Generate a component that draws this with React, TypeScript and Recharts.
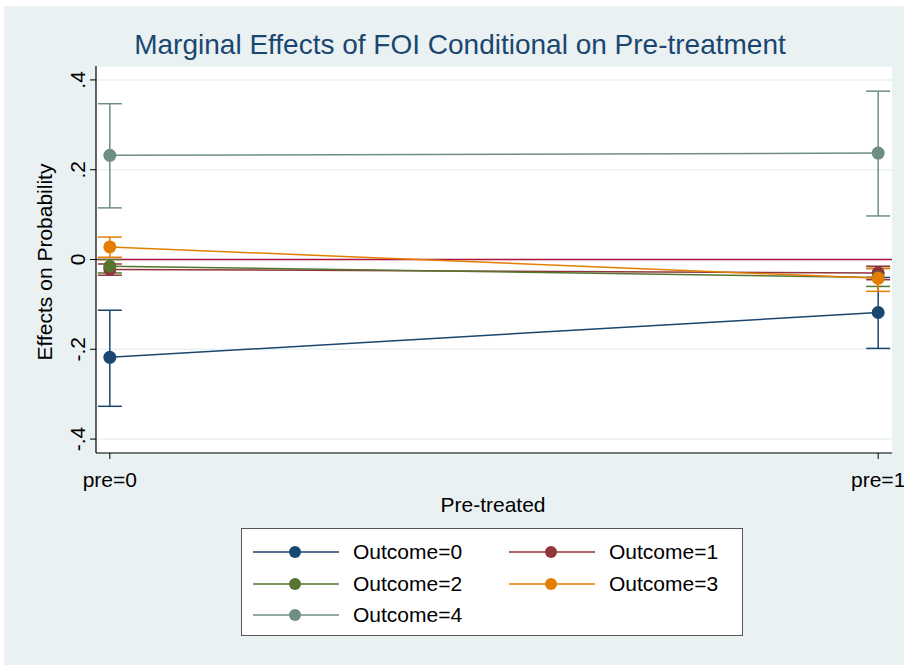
import {
  ComposedChart,
  Line,
  XAxis,
  YAxis,
  CartesianGrid,
  ErrorBar,
  ReferenceLine,
} from 'recharts';

// x positions: pre=0, pre=1
const xValues = [0, 1];
const xTickLabels = ['pre=0', 'pre=1'];
const yTicks = [-0.4, -0.2, 0, 0.2, 0.4];

const seriesNames = ['Outcome=0', 'Outcome=1', 'Outcome=2', 'Outcome=3', 'Outcome=4'];
const seriesColors = ['#1a476f', '#90353b', '#55752f', '#e37e00', '#6e8e84'];

// point estimates and confidence bounds, one entry per x value
const outcome0 = [-0.218, -0.118];
const outcome0Low = [-0.327, -0.198];
const outcome0High = [-0.113, -0.04];

const outcome1 = [-0.022, -0.03];
const outcome1Low = [-0.035, -0.045];
const outcome1High = [-0.01, -0.015];

const outcome2 = [-0.015, -0.04];
const outcome2Low = [-0.03, -0.06];
const outcome2High = [0.0, -0.02];

const outcome3 = [0.028, -0.042];
const outcome3Low = [0.005, -0.071];
const outcome3High = [0.05, -0.02];

const outcome4 = [0.232, 0.237];
const outcome4Low = [0.115, 0.097];
const outcome4High = [0.347, 0.375];

const estimates = [outcome0, outcome1, outcome2, outcome3, outcome4];
const lows = [outcome0Low, outcome1Low, outcome2Low, outcome3Low, outcome4Low];
const highs = [outcome0High, outcome1High, outcome2High, outcome3High, outcome4High];

const data = xValues.map((x, i) => {
  const row: Record<string, any> = { x };
  estimates.forEach((est, s) => {
    row[`o${s}`] = est[i];
    row[`e${s}`] = [est[i] - lows[s][i], highs[s][i] - est[i]];
  });
  return row;
});

const FONT = '"Liberation Sans", Arial, sans-serif';
const TEXT_SIZE = 21;

const YTick = (props: any) => {
  const { x, y, payload } = props;
  const v = payload.value;
  const label = v === 0 ? '0' : (v < 0 ? '-' : '') + String(Math.abs(v)).replace(/^0/, '');
  const bx = x - 3;
  return (
    <text
      x={bx}
      y={y}
      transform={`rotate(-90 ${bx} ${y})`}
      textAnchor="middle"
      fontSize={TEXT_SIZE}
      fontFamily={FONT}
      fill="#000"
    >
      {label}
    </text>
  );
};

const XTick = (props: any) => {
  const { x, y, payload } = props;
  return (
    <text x={x} y={y + 26} textAnchor="middle" fontSize={TEXT_SIZE} fontFamily={FONT} fill="#000">
      {xTickLabels[payload.value]}
    </text>
  );
};

const LegendBox = () => (
  <div
    style={{
      position: 'absolute',
      left: 241,
      top: 528,
      width: 502,
      height: 108,
      boxSizing: 'border-box',
      border: '1.5px solid #555',
      background: '#fff',
      fontFamily: FONT,
      fontSize: TEXT_SIZE,
      color: '#000',
    }}
  >
    {seriesNames.map((name, i) => (
      <div
        key={name}
        style={{
          position: 'absolute',
          left: 11 + (i % 2) * 256,
          top: 8 + Math.floor(i / 2) * 31.5,
          height: 30,
          display: 'flex',
          alignItems: 'center',
          whiteSpace: 'nowrap',
        }}
      >
        <svg width={86} height={14} style={{ marginRight: 14 }}>
          <line x1={0} y1={7} x2={86} y2={7} stroke={seriesColors[i]} strokeWidth={1.5} />
          <circle cx={42} cy={7} r={6} fill={seriesColors[i]} />
        </svg>
        <span>{name}</span>
      </div>
    ))}
  </div>
);

export default function App() {
  return (
    <div style={{ position: 'absolute', left: 0, top: 0, width: 904, height: 665, background: '#fff' }}>
      <div
        style={{
          position: 'absolute',
          left: 4,
          top: 6,
          width: 900,
          height: 659,
          background: '#eaf1f3',
        }}
      />
      <div
        style={{
          position: 'absolute',
          left: 0,
          top: 45,
          width: 920,
          transform: 'translateY(-50%)',
          textAlign: 'center',
          fontFamily: FONT,
          fontSize: 28,
          color: '#1a476f',
          whiteSpace: 'nowrap',
        }}
      >
        Marginal Effects of FOI Conditional on Pre-treatment
      </div>
      <div
        style={{
          position: 'absolute',
          left: 45,
          top: 262,
          transform: 'translate(-50%, -50%) rotate(-90deg)',
          whiteSpace: 'nowrap',
          fontFamily: FONT,
          fontSize: TEXT_SIZE,
          color: '#000',
        }}
      >
        Effects on Probability
      </div>
      <div
        style={{
          position: 'absolute',
          left: 493,
          top: 505,
          transform: 'translate(-50%, -50%)',
          whiteSpace: 'nowrap',
          fontFamily: FONT,
          fontSize: TEXT_SIZE,
          color: '#000',
        }}
      >
        Pre-treated
      </div>
      <div style={{ position: 'absolute', left: 0, top: 0 }}>
        <ComposedChart
          width={904}
          height={665}
          data={data}
          margin={{ top: 66, right: 12, bottom: 172, left: 50 }}
        >
          <CartesianGrid vertical={false} fill="#fff" stroke="#eaf1f3" strokeWidth={1.5} />
          <XAxis
            dataKey="x"
            type="number"
            domain={[-0.018, 1.018]}
            ticks={xValues}
            tick={<XTick />}
            axisLine={{ stroke: '#000', strokeWidth: 1.2 }}
            tickLine={{ stroke: '#000' }}
            tickSize={6}
            height={40}
            allowDataOverflow
          />
          <YAxis
            type="number"
            domain={[-0.431, 0.431]}
            ticks={yTicks}
            tick={<YTick />}
            axisLine={{ stroke: '#000', strokeWidth: 1.2 }}
            tickLine={{ stroke: '#000' }}
            tickSize={6}
            width={46}
            allowDataOverflow
          />
          <ReferenceLine y={0} stroke="#b0143c" strokeWidth={1.5} />
          {seriesNames.map((name, s) => (
            <Line
              key={name}
              name={name}
              dataKey={`o${s}`}
              stroke={seriesColors[s]}
              strokeWidth={1.5}
              dot={{ r: 6.5, fill: seriesColors[s], stroke: 'none' }}
              activeDot={false}
              isAnimationActive={false}
            >
              <ErrorBar
                dataKey={`e${s}`}
                direction="y"
                width={12}
                stroke={seriesColors[s]}
                strokeWidth={1.5}
                isAnimationActive={false}
              />
            </Line>
          ))}
        </ComposedChart>
      </div>
      <LegendBox />
    </div>
  );
}
